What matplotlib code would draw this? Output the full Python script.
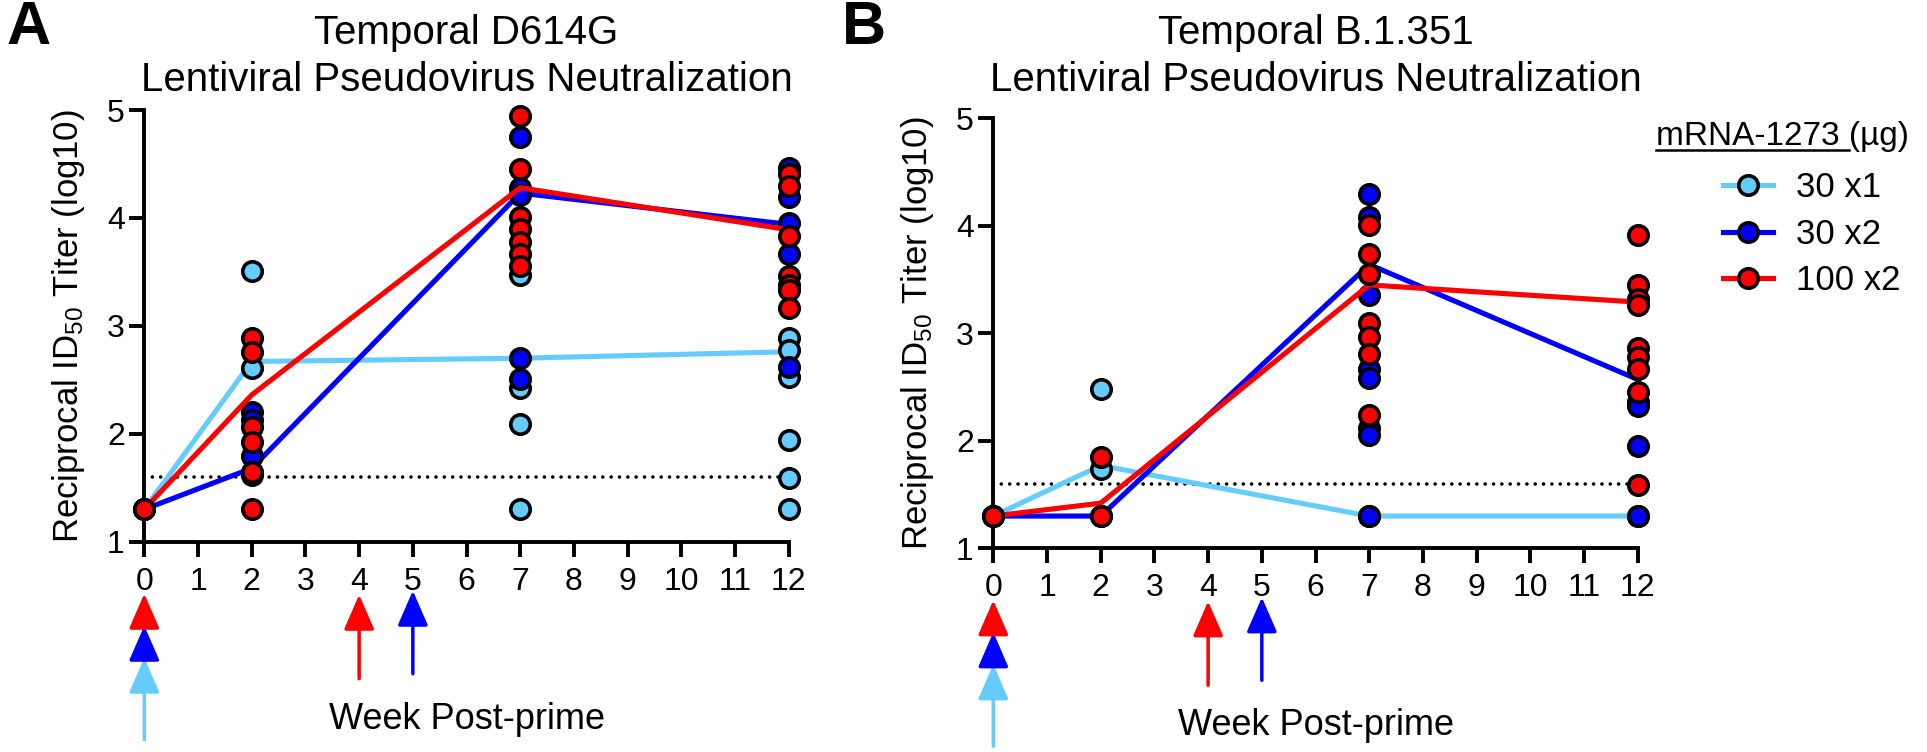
import matplotlib
matplotlib.use('Agg')
import matplotlib.pyplot as plt
from matplotlib import transforms
from matplotlib.lines import Line2D

plt.rcParams['font.family'] = ['Liberation Sans', 'DejaVu Sans']
plt.rcParams['mathtext.fontset'] = 'custom'
plt.rcParams['mathtext.rm'] = 'Liberation Sans'
plt.rcParams['mathtext.default'] = 'regular'

# sampling weeks and groups
weeks = [0, 2, 7, 12]
groups = ['30 x1', '30 x2', '100 x2']
colors = ['#66CCFF', '#0000FF', '#FF0000']

# Panel A - D614G, individual animals (log10 ID50), one list per week
a_30x1 = [[1.30], [3.51, 2.61], [3.47, 2.42, 2.09, 1.30], [2.89, 2.78, 2.53, 1.94, 1.59, 1.30]]
a_30x2 = [[1.30], [2.20, 2.13, 1.79, 1.62], [4.75, 4.28, 4.21, 2.70, 2.51], [4.46, 4.19, 3.95, 3.67, 2.62]]
a_100x2 = [[1.30], [2.89, 2.76, 2.06, 1.92, 1.65, 1.30], [4.94, 4.45, 4.01, 3.90, 3.78, 3.67, 3.55],
           [4.41, 4.30, 3.83, 3.46, 3.38, 3.33, 3.17]]
# Panel A - group means
a_30x1_mean = [1.30, 2.67, 2.70, 2.76]
a_30x2_mean = [1.30, 1.68, 4.23, 3.94]
a_100x2_mean = [1.30, 2.36, 4.28, 3.89]

# Panel B - B.1.351
b_30x1 = [[1.30], [2.48, 1.74], [1.30], [1.30]]
b_30x2 = [[1.30], [1.30], [4.30, 4.08, 3.36, 2.67, 2.58, 2.12, 2.05, 1.30], [2.36, 2.32, 1.95, 1.30]]
b_100x2 = [[1.30], [1.85, 1.30], [4.01, 3.74, 3.55, 3.10, 2.97, 2.81, 2.24],
           [3.91, 3.45, 3.32, 3.26, 2.86, 2.78, 2.67, 2.45, 1.59]]
b_30x1_mean = [1.30, 1.77, 1.30, 1.30]
b_30x2_mean = [1.30, 1.30, 3.64, 2.57]
b_100x2_mean = [1.30, 1.42, 3.45, 3.29]

lod = 1.6  # limit of detection
prime_week = 0
boost_weeks = [None, 5, 4]  # 30 x1 gets no boost

W, H = 1927, 752
fig = plt.figure(figsize=(W / 100, H / 100), dpi=100)
axA = fig.add_axes([144.3 / W, 1 - 541.7 / H, 644.5 / W, 431.7 / H])
axB = fig.add_axes([993.3 / W, 1 - 548.3 / H, 644.5 / W, 430.0 / H])


def draw_panel(ax, pts, means, title, title_pad):
    z = 2
    for vals, mean, c in zip(pts, means, colors):
        ax.plot(weeks, mean, color=c, lw=3.7, zorder=z, clip_on=False, solid_capstyle='butt')
        xs = [w for w, v in zip(weeks, vals) for _ in v]
        ys = [y for v in vals for y in v]
        ax.plot(xs, ys, 'o', ms=14, mfc=c, mec='black', mew=2.6, zorder=z + 0.1, clip_on=False)
        z += 0.2
    ax.plot([0, 12], [lod, lod], color='black', lw=2.6, linestyle=(0, (0.01, 2.3)),
            dash_capstyle='round', zorder=1.5)

    ax.set_xlim(0, 12)
    ax.set_ylim(1, 5)
    ax.set_xticks(range(13))
    ax.set_yticks([1, 2, 3, 4, 5])
    for s in ['top', 'right']:
        ax.spines[s].set_visible(False)
    for s in ['left', 'bottom']:
        ax.spines[s].set_linewidth(2.8)
    ax.tick_params(length=11, width=2.8, labelsize=23)
    ax.tick_params(axis='x', pad=7)
    ax.tick_params(axis='y', pad=3)
    ax.set_title(title, fontsize=29, pad=title_pad, linespacing=1.3)
    ax.set_ylabel('Reciprocal ID$_{50}$ Titer (log10)', fontsize=25)
    ax.yaxis.label.set_va('center')
    ax.yaxis.set_label_coords(-0.118, 0.5)
    ax.set_xlabel('Week Post-prime', fontsize=26)
    ax.xaxis.label.set_va('center')
    ax.xaxis.set_label_coords(0.5, -0.413)

    # vaccination arrows under the axis (pixel offsets below the x axis line)
    y0 = ax.get_position().y0 * H
    trans = transforms.blended_transform_factory(ax.transData, fig.transFigure)
    style = '-|>,head_length=1.08,head_width=0.47'

    def arrow(x, tip, tail, c):
        ax.annotate('', xy=(x, (y0 - tip) / H), xytext=(x, (y0 - tail) / H),
                    xycoords=trans, textcoords=trans, annotation_clip=False,
                    arrowprops=dict(arrowstyle=style, mutation_scale=20, color=c, lw=2.5,
                                    shrinkA=0, shrinkB=0))

    # prime: stacked heads at week 0
    arrow(prime_week, 116, 198, colors[0])
    arrow(prime_week, 84, 116, colors[1])
    arrow(prime_week, 52, 84, colors[2])
    # boosts
    arrow(boost_weeks[2], 53, 137, colors[2])
    arrow(boost_weeks[1], 49, 132, colors[1])


draw_panel(axA, [a_30x1, a_30x2, a_100x2], [a_30x1_mean, a_30x2_mean, a_100x2_mean],
           'Temporal D614G\nLentiviral Pseudovirus Neutralization', 14)
draw_panel(axB, [b_30x1, b_30x2, b_100x2], [b_30x1_mean, b_30x2_mean, b_100x2_mean],
           'Temporal B.1.351\nLentiviral Pseudovirus Neutralization', 20)

fig.text(6 / W, 1 - 44 / H, 'A', fontsize=44, fontweight='bold', va='baseline')
fig.text(842 / W, 1 - 44 / H, 'B', fontsize=44, fontweight='bold', va='baseline')

# legend
handles = [Line2D([], [], color=c, lw=3.7, marker='o', ms=14, mfc=c, mec='black', mew=2.6)
           for c in colors]
fig.legend(handles, groups, loc='upper left', bbox_to_anchor=(1706 / W, 1 - 154 / H),
           frameon=False, borderpad=0, fontsize=25, handlelength=1.44,
           handletextpad=0.66, labelspacing=0.39)
ttl = fig.text(1656 / W, 1 - 145 / H, 'mRNA-1273 (\u00b5g)', fontsize=24, va='baseline')
fig.canvas.draw()
r = fig.canvas.get_renderer()
bb = ttl.get_window_extent(r)
# underline only the "mRNA-1273 " part
tmp = fig.text(1656 / W, 1 - 145 / H, 'mRNA-1273 ', fontsize=24, va='baseline')
bb2 = tmp.get_window_extent(r)
tmp.remove()
ul_y = (1 - 150 / H) * H
fig.add_artist(Line2D([bb.x0, bb2.x1], [ul_y, ul_y], color='black', lw=1.8,
                      transform=transforms.IdentityTransform()))

fig.savefig('out.png', dpi=100)
